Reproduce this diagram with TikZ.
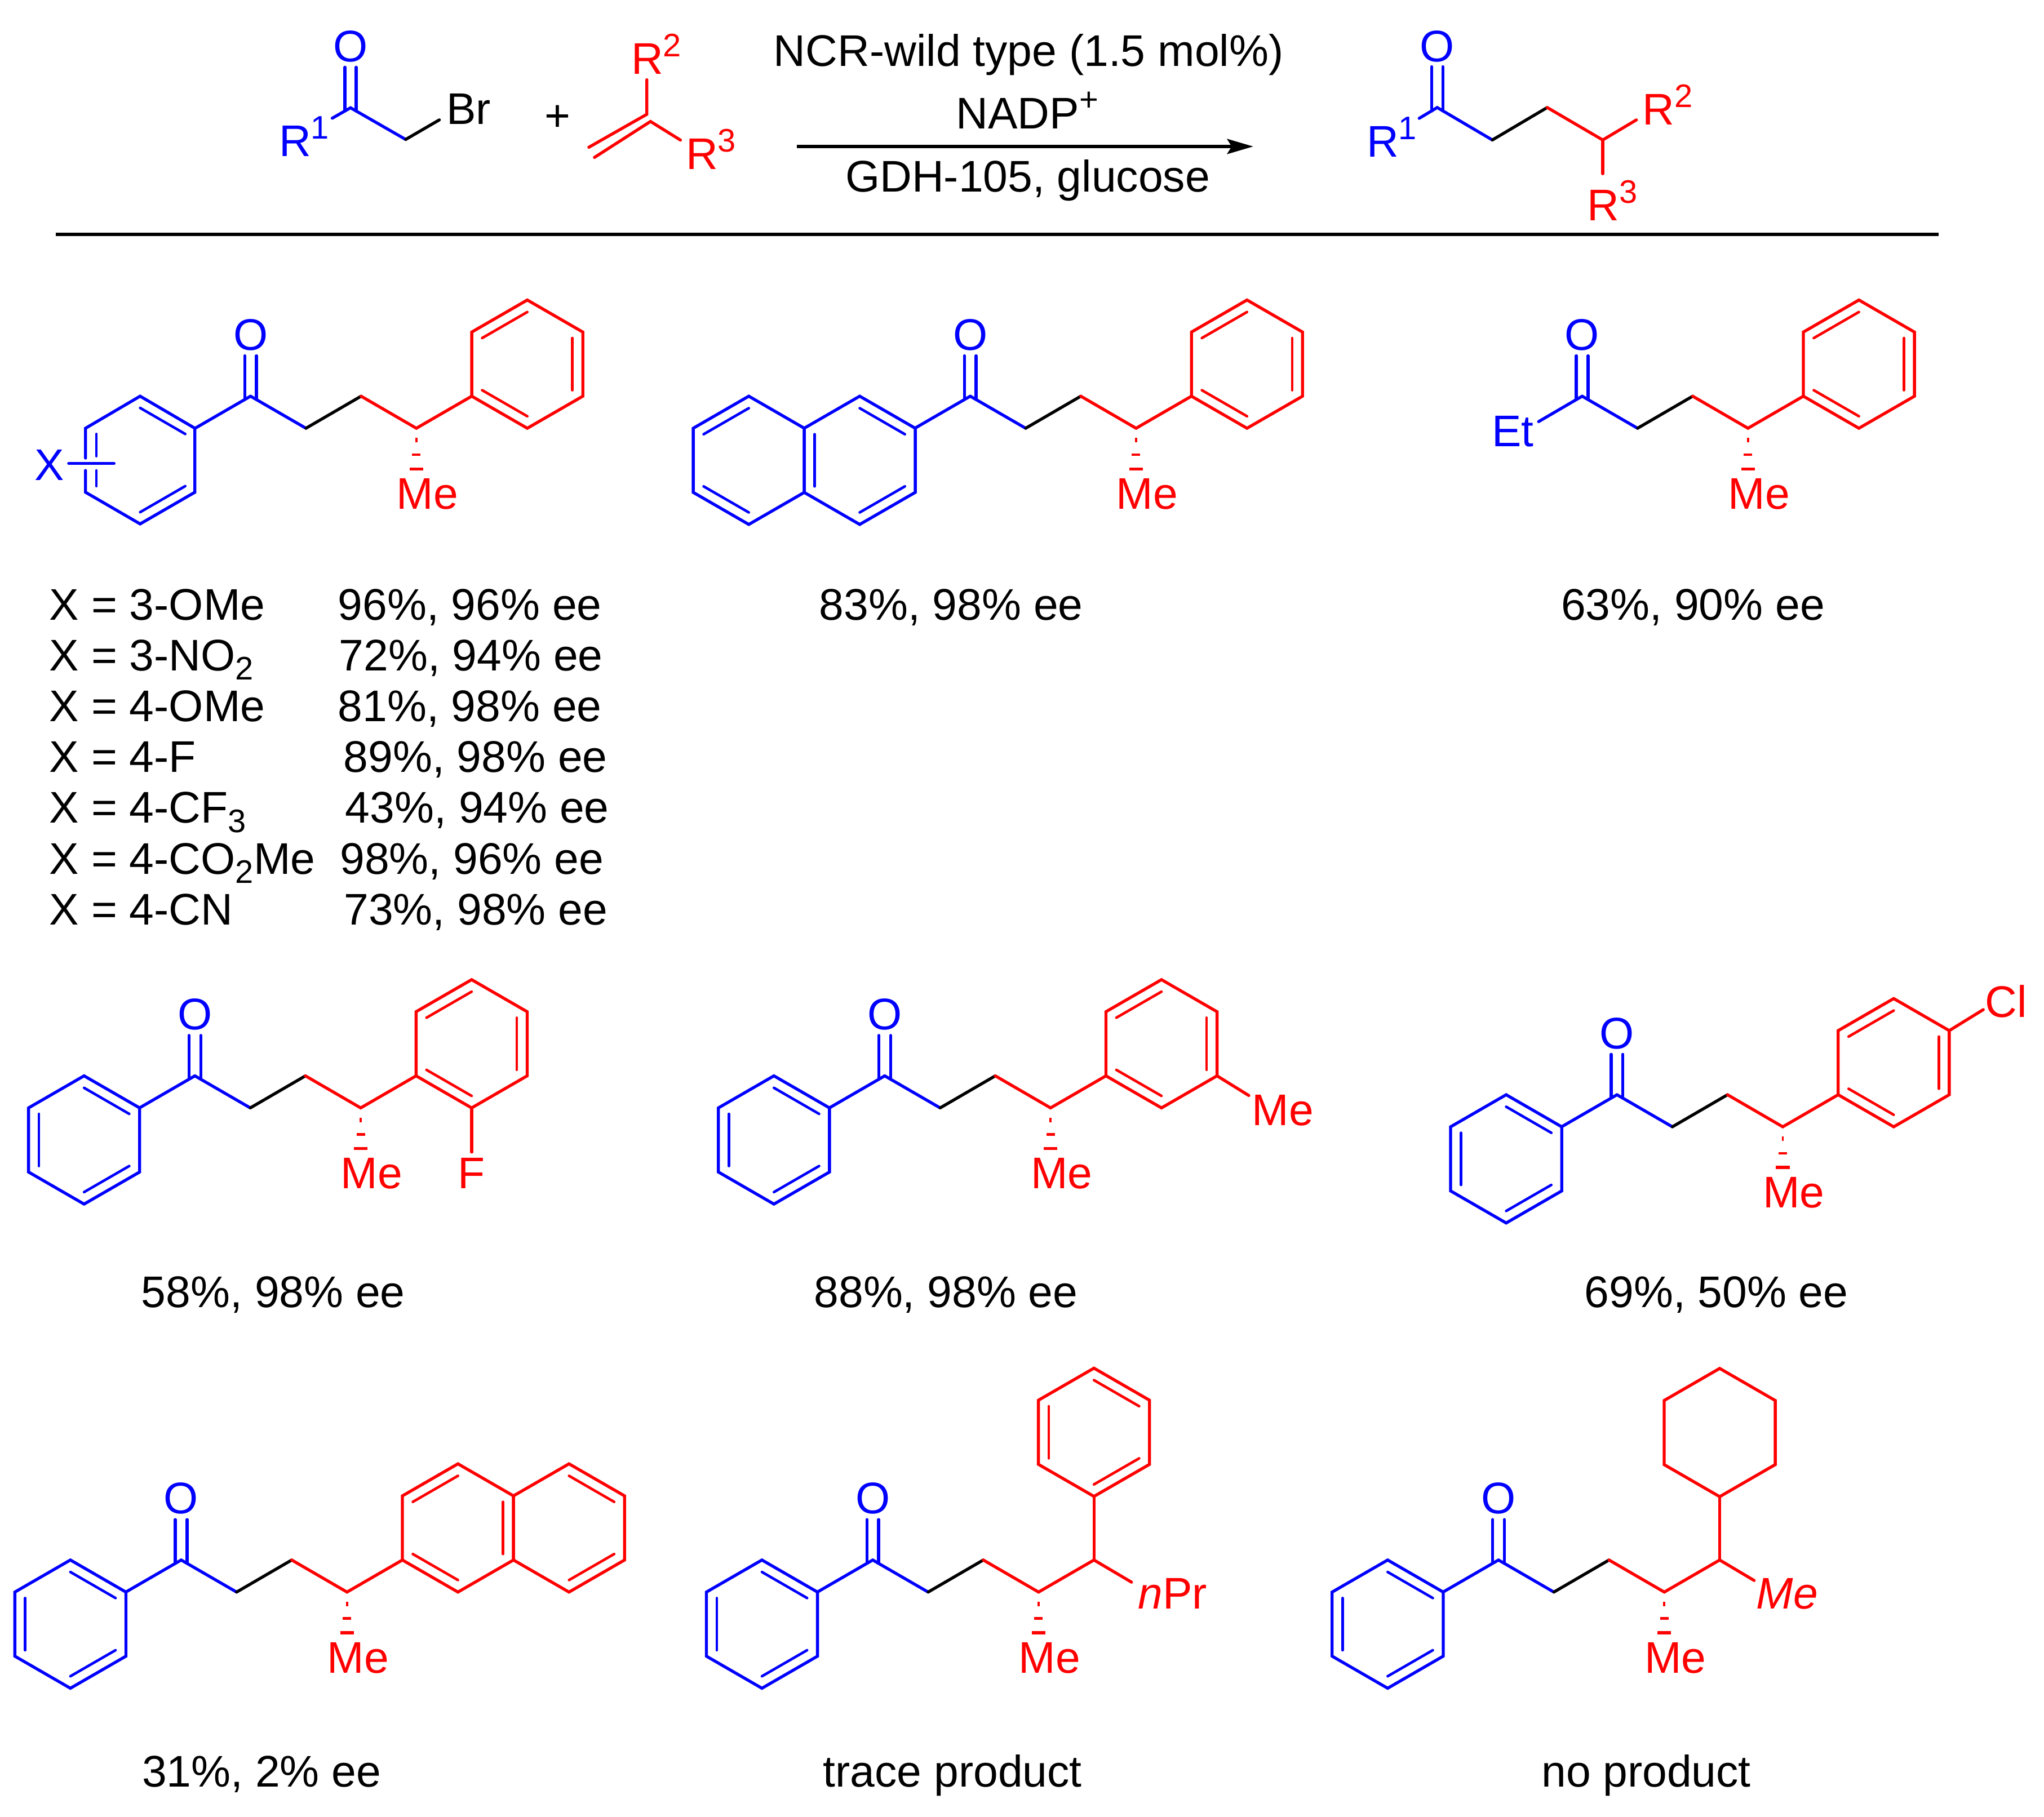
\documentclass[tikz,border=0pt]{standalone}
\usepackage{fontspec}
\setmainfont{Liberation Sans}
\usetikzlibrary{arrows.meta}
\newcommand{\msz}{\fontsize{34}{40}\selectfont}
\newcommand{\supr}[1]{\raisebox{13.6pt}{\fontsize{25}{25}\selectfont #1}}
\newcommand{\subr}[1]{\raisebox{-7pt}{\fontsize{25}{25}\selectfont #1}}
\tikzset{
  bond/.style={line width=2.3pt,line cap=round,line join=miter,miter limit=4},
  innerbond/.style={line width=2pt,line cap=round},
  txt/.style={inner sep=0pt,outer sep=0pt,anchor=base west,font=\msz,text=#1},
  txt/.default=black,
  otxt/.style={inner sep=0pt,outer sep=0pt,anchor=base,font=\msz,text=blue},
}
% hexagon, pointy top
\newcommand{\hexring}[3]{%
  \begin{scope}[shift={(#1,#2)}]
    \draw[bond,#3] (-90:49.2)--(-30:49.2)--(30:49.2)--(90:49.2)--(150:49.2)--(210:49.2)--cycle;
  \end{scope}}
\newcommand{\benzring}[4]{%
  \hexring{#1}{#2}{#3}%
  \begin{scope}[shift={(#1,#2)}]
    \foreach \ang in {#4} {\draw[innerbond,#3] (\ang:40)--(\ang+60:40);}
  \end{scope}}
% ketone + chain, origin at the carbonyl carbon
\newcommand{\ketone}[3]{%
  \begin{scope}[shift={(#2,#3)}]
    \node[otxt] (#1-O) at (0,-35.4) {O};
    \draw[bond,blue] (-4.5,-31)--(-4.5,2.5) (4.5,-31)--(4.5,2.5);
    \draw[bond,blue] (0,0)--(42.5,24.6);
    \draw[bond,black] (42.5,24.6)--(84.8,0);
    \draw[bond,red] (84.8,0)--(127.2,24.6)--(169.7,0);
    \fill[red] (126.4,32) rectangle (128,35.5);
    \fill[red] (123.95,43.9) rectangle (130.45,45.9);
    \fill[red] (122,54.6) rectangle (132.4,57);
    \node[txt=red] (#1-Me) at (112,86.6) {Me};
  \end{scope}}
\newcommand{\leftph}[2]{%
  \begin{scope}[shift={(#1,#2)}]
    \draw[bond,blue] (0,0)--(-42.5,24.6);
  \end{scope}}
\begin{document}
\begin{tikzpicture}[x=1pt,y=-1pt]
\useasboundingbox (0,0) rectangle (1568,1394.2);
% ---- scheme ----
\node[otxt] (sO) at (268.9,47.3) {O};
\draw[bond,blue] (264.6,51.6)--(264.6,85.2) (273.2,51.6)--(273.2,85.2);
\draw[bond,blue] (254.9,90.7)--(268.9,82.7)--(311.2,107);
\draw[bond,black] (311.2,107)--(337,92);
\node[txt=blue] (sR1) at (214,120) {R\supr{1}};
\node[txt] (sBr) at (342.5,95.4) {Br};
\node[txt] (plus) at (418,100.5) {+};
\draw[bond,red] (496.2,61.2)--(496.2,87.7)--(451.7,113);
\draw[bond,red] (456,120.8)--(499,93.2)--(522,107.5);
\node[txt=red] (aR2) at (484.2,57) {R\supr{2}};
\node[txt=red] (aR3) at (526.2,130) {R\supr{3}};
\coordinate (arrS) at (611.3,112.4);
\coordinate (arrE) at (961.4,112.4);
\draw[line width=2.6pt,-{Stealth[length=20pt,width=11.5pt,inset=3.5pt]}] (arrS)--(arrE);
\node[txt] (r1) at (593.5,50.7) {NCR-wild type (1.5 mol\%)};
\node[txt] (r2) at (733.5,98.7) {NADP\supr{+}};
\node[txt] (r3) at (648.5,147.3) {GDH-105, glucose};
\node[otxt] (pO) at (1102.5,47.3) {O};
\draw[bond,blue] (1098.2,51.2)--(1098.2,85.2) (1106.8,51.2)--(1106.8,85.2);
\draw[bond,blue] (1088.7,90.8)--(1102.5,82.5)--(1144.8,107.4);
\draw[bond,black] (1144.8,107.4)--(1186.9,82.5);
\draw[bond,red] (1186.9,82.5)--(1229.5,107.4)--(1255.3,92);
\draw[bond,red] (1229.5,107.4)--(1229.5,133.3);
\node[txt=blue] (pR1) at (1048.4,120.4) {R\supr{1}};
\node[txt=red] (pR2) at (1260,95.9) {R\supr{2}};
\node[txt=red] (pR3) at (1217.5,169.4) {R\supr{3}};
\coordinate (ruleL) at (42.7,180);
\coordinate (ruleR) at (1487,180);
\draw[line width=2.6pt] (ruleL)--(ruleR);
% ---- m1 ----
\ketone{m1}{192.2}{304}
\leftph{192.2}{304}
\draw[bond,blue] (65.6,351.5)--(65.6,328.6)--(107.5,304)--(149.5,328.6)--(149.5,377.7)--(107.5,402)--(65.6,377.7)--(65.6,361);
\draw[innerbond,blue] (107.5,313)--(142.1,333) (142.1,373)--(107.5,393);
\draw[innerbond,blue] (74,333)--(74,350) (74,361)--(74,373);
\draw[bond,blue] (52.7,355.6)--(87.5,355.6);
\node[txt=blue] (mX) at (26.5,368.6) {X};
\benzring{404.5}{279.4}{red}{210,330,90}
% ---- m2 ----
\ketone{m2}{744.3}{304}
\leftph{744.3}{304}
\benzring{659.5}{353.2}{blue}{270,30,150}
\benzring{574.4}{353.2}{blue}{210,90}
\benzring{956.6}{279.4}{red}{210,330,90}
% ---- m3 ----
\ketone{m3}{1213.7}{304}
\draw[bond,blue] (1213.7,304)--(1180.3,323.5);
\node[txt=blue] (mEt) at (1144.4,342.5) {Et};
\benzring{1426}{279.4}{red}{210,330,90}
% ---- m4 ----
\ketone{m4}{149.5}{825.5}
\leftph{149.5}{825.5}
\benzring{64.5}{874.7}{blue}{270,30,150}
\benzring{361.8}{800.9}{red}{210,330,90}
\draw[bond,red] (361.8,850.1)--(361.8,884);
\node[txt=red] (mF) at (351.2,912) {F};
% ---- m5 ----
\ketone{m5}{678.7}{825.5}
\leftph{678.7}{825.5}
\benzring{593.7}{874.7}{blue}{270,30,150}
\benzring{891}{800.9}{red}{210,330,90}
\draw[bond,red] (933.6,825.5)--(958,840.6);
\node[txt=red] (mMe) at (960.5,863.5) {Me};
% ---- m6 ----
\ketone{m6}{1240.4}{840}
\leftph{1240.4}{840}
\benzring{1155.4}{889.2}{blue}{270,30,150}
\benzring{1452.7}{815.4}{red}{210,330,90}
\draw[bond,red] (1495.3,790.8)--(1521.4,774.7);
\node[txt=red] (mCl) at (1523,780.4) {Cl};
% ---- m7 ----
\ketone{m7}{139}{1197}
\leftph{139}{1197}
\benzring{54}{1246.2}{blue}{270,30,150}
\benzring{351.3}{1172.4}{red}{210,330,90}
\benzring{436.5}{1172.4}{red}{270,30}
% ---- m8 ----
\ketone{m8}{669.5}{1197}
\leftph{669.5}{1197}
\benzring{584.5}{1246.2}{blue}{270,30,150}
\draw[bond,red] (839.2,1197)--(839.2,1148.3);
\benzring{839.2}{1099}{red}{270,30,150}
\draw[bond,red] (839.2,1197)--(868,1214);
\node[txt=red] (mPr) at (873,1234.4) {\itshape n\upshape Pr};
% ---- m9 ----
\ketone{m9}{1149.5}{1197}
\leftph{1149.5}{1197}
\benzring{1064.5}{1246.2}{blue}{270,30,150}
\draw[bond,red] (1319.2,1197)--(1319.2,1148.4);
\hexring{1319.2}{1099.2}{red}
\draw[bond,red] (1319.2,1197)--(1345.6,1212.7);
\node[txt=red] (mMeI) at (1347.5,1234.5) {\itshape Me};
% ---- labels ----
\node[txt] (x1) at (38,475.6) {X = 3-OMe};
\node[txt] (x2) at (38,514.6) {X = 3-NO\subr{2}};
\node[txt] (x3) at (38,553.6) {X = 4-OMe};
\node[txt] (x4) at (38,592.6) {X = 4-F};
\node[txt] (x5) at (38,631.6) {X = 4-CF\subr{3}};
\node[txt] (x6) at (38,670.6) {X = 4-CO\subr{2}Me};
\node[txt] (x7) at (38,709.6) {X = 4-CN};
\node[txt] (y1) at (259.3,475.6) {96\%, 96\% ee};
\node[txt] (y2) at (260.2,514.6) {72\%, 94\% ee};
\node[txt] (y3) at (259.3,553.6) {81\%, 98\% ee};
\node[txt] (y4) at (263.6,592.6) {89\%, 98\% ee};
\node[txt] (y5) at (265,631.6) {43\%, 94\% ee};
\node[txt] (y6) at (260.8,670.6) {98\%, 96\% ee};
\node[txt] (y7) at (263.9,709.6) {73\%, 98\% ee};
\node[txt] (l2) at (628.5,475.6) {83\%, 98\% ee};
\node[txt] (l3) at (1197.5,475.6) {63\%, 90\% ee};
\node[txt] (l4) at (108.5,1003) {58\%, 98\% ee};
\node[txt] (l5) at (624.5,1003) {88\%, 98\% ee};
\node[txt] (l6) at (1215.5,1003) {69\%, 50\% ee};
\node[txt] (l7) at (109,1371) {31\%, 2\% ee};
\node[txt] (l8) at (631.5,1371) {trace product};
\node[txt] (l9) at (1182.5,1371) {no product};
\end{tikzpicture}
\end{document}
